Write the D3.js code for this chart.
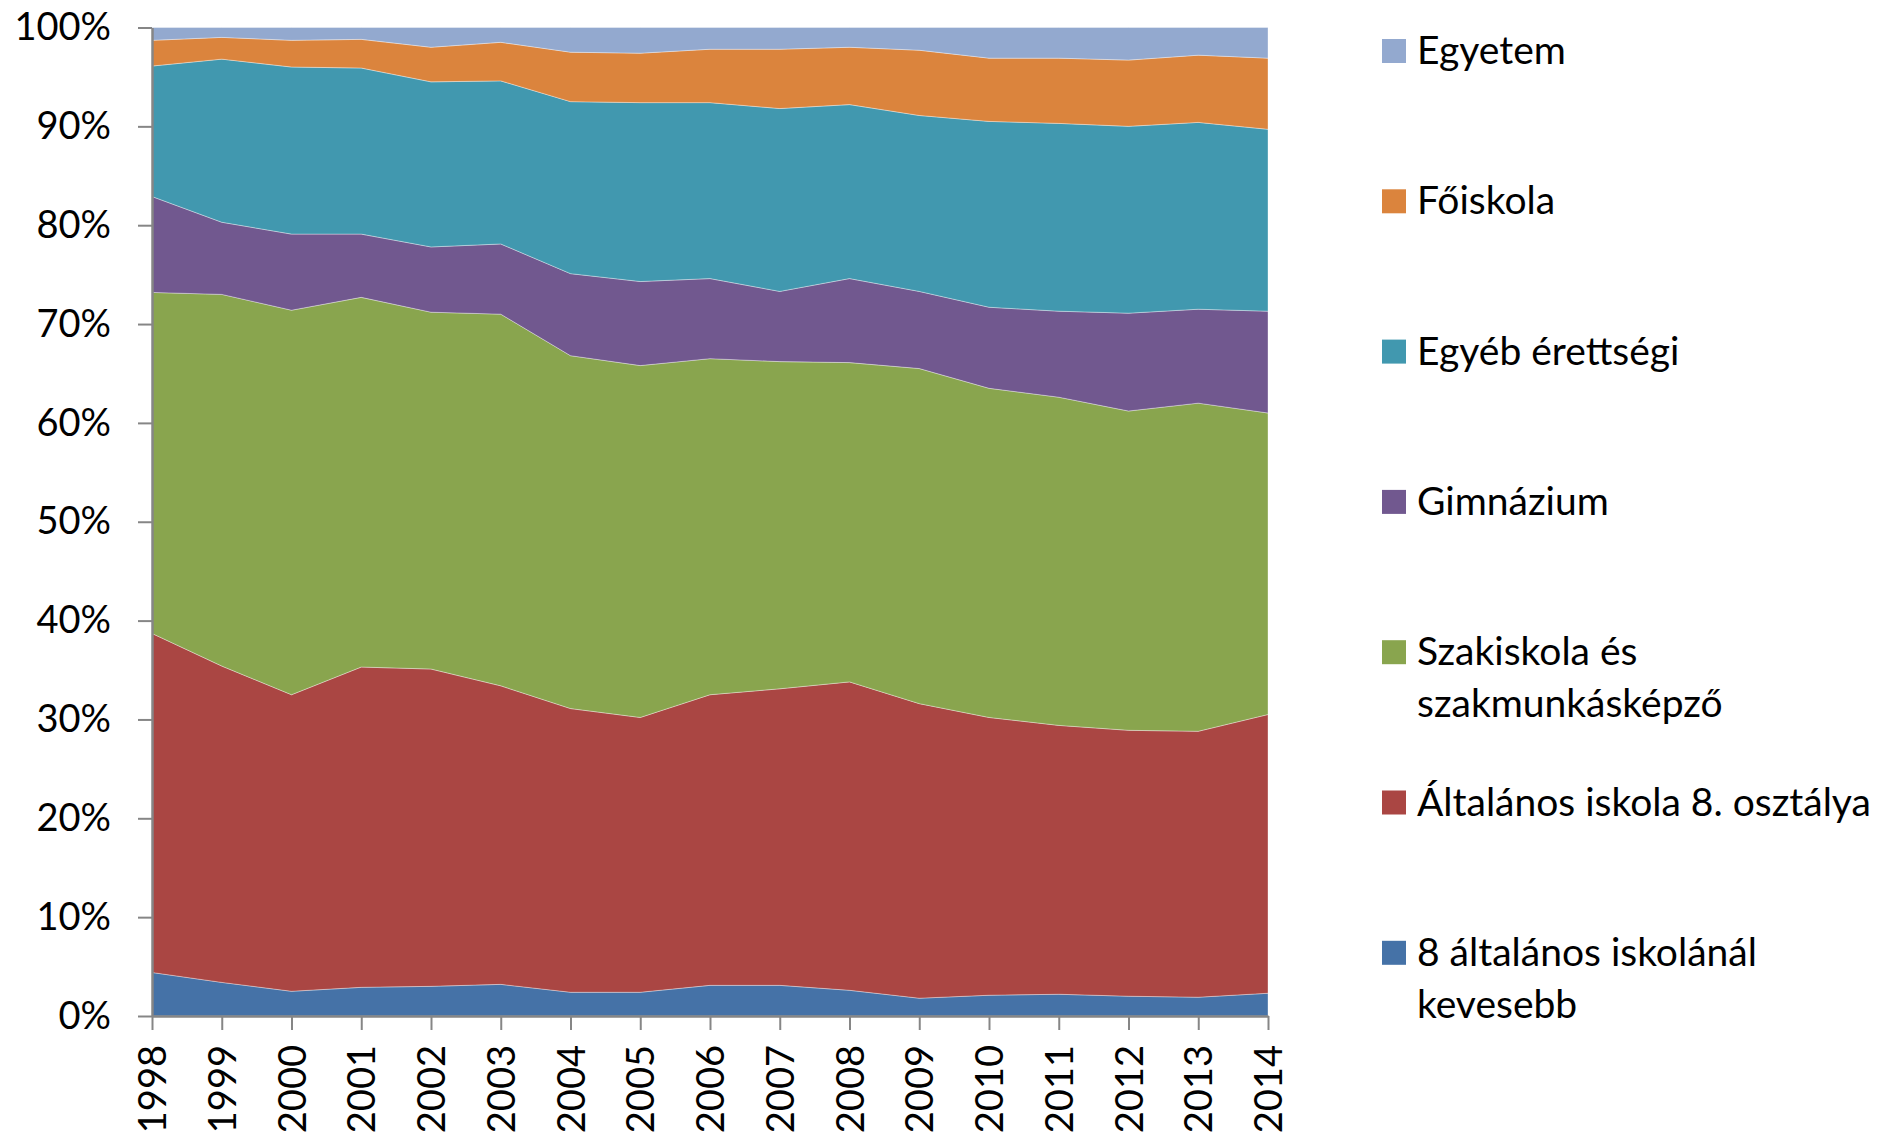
<!DOCTYPE html>
<html>
<head>
<meta charset="utf-8">
<script src="https://cdn.jsdelivr.net/npm/d3@7"></script>
<style>
  html, body { margin: 0; padding: 0; background: #fff; }
  svg { display: block; }
  text { font-family: Lato, "Open Sans", sans-serif; fill: #000; }
</style>
</head>
<body>
<svg id="chart" width="1888" height="1132"></svg>
<script>
// ---- data (percent shares) ----
const years = [1998,1999,2000,2001,2002,2003,2004,2005,2006,2007,2008,2009,2010,2011,2012,2013,2014];

const keys = [
  "8 általános iskolánál kevesebb",
  "Általános iskola 8. osztálya",
  "Szakiskola és szakmunkásképző",
  "Gimnázium",
  "Egyéb érettségi",
  "Főiskola",
  "Egyetem"
];

const lessThan8     = [4.4, 3.4, 2.5, 2.9, 3.0, 3.2, 2.4, 2.4, 3.1, 3.1, 2.6, 1.8, 2.1, 2.2, 2.0, 1.9, 2.3];
const altalanos8    = [34.3, 32.0, 30.0, 32.4, 32.1, 30.2, 28.7, 27.8, 29.4, 30.0, 31.2, 29.8, 28.1, 27.2, 26.9, 26.9, 28.2];
const szakiskola    = [34.5, 37.6, 38.9, 37.4, 36.1, 37.6, 35.7, 35.6, 34.0, 33.1, 32.3, 33.9, 33.3, 33.2, 32.3, 33.2, 30.5];
const gimnazium     = [9.7, 7.3, 7.7, 6.4, 6.6, 7.1, 8.3, 8.5, 8.1, 7.1, 8.5, 7.8, 8.2, 8.7, 9.9, 9.5, 10.3];
const egyebErett    = [13.2, 16.5, 16.9, 16.8, 16.7, 16.5, 17.4, 18.1, 17.8, 18.5, 17.6, 17.8, 18.8, 19.0, 18.9, 18.9, 18.4];
const foiskola      = [2.6, 2.2, 2.7, 2.9, 3.5, 3.9, 5.0, 5.0, 5.4, 6.0, 5.8, 6.6, 6.4, 6.6, 6.7, 6.8, 7.2];
const egyetem       = [1.3, 1.0, 1.3, 1.2, 2.0, 1.5, 2.5, 2.6, 2.2, 2.2, 2.0, 2.3, 3.1, 3.1, 3.3, 2.8, 3.1];

const seriesValues = [lessThan8, altalanos8, szakiskola, gimnazium, egyebErett, foiskola, egyetem];
const colors = ["#4572A7", "#AA4643", "#89A54E", "#71588F", "#4198AF", "#DB843D", "#93A9CF"];
const yTicks = [0, 0.1, 0.2, 0.3, 0.4, 0.5, 0.6, 0.7, 0.8, 0.9, 1.0];

// legend labels split into lines
const legendLines = {
  "Egyetem": ["Egyetem"],
  "Főiskola": ["Főiskola"],
  "Egyéb érettségi": ["Egyéb érettségi"],
  "Gimnázium": ["Gimnázium"],
  "Szakiskola és szakmunkásképző": ["Szakiskola és", "szakmunkásképző"],
  "Általános iskola 8. osztálya": ["Általános iskola 8. osztálya"],
  "8 általános iskolánál kevesebb": ["8 általános iskolánál", "kevesebb"]
};

(function () {
  const table = years.map((yr, i) => {
    const row = { year: yr };
    keys.forEach((k, j) => row[k] = seriesValues[j][i]);
    return row;
  });

  const svg = d3.select("#chart");
  const pLeft = 152, pRight = 1268, pTop = 27.5, pBottom = 1016;
  const axisFont = 38, legendFont = 39;

  const x = d3.scaleLinear().domain([years[0], years[years.length - 1]]).range([pLeft, pRight]);
  const y = d3.scaleLinear().domain([0, 1]).range([pBottom, pTop]);

  const layers = d3.stack().keys(keys).offset(d3.stackOffsetExpand)(table);

  const area = d3.area()
    .x(d => x(d.data.year))
    .y0(d => y(d[0]))
    .y1(d => y(d[1]));

  svg.append("g").selectAll("path")
    .data(layers)
    .join("path")
    .attr("d", area)
    .attr("fill", (d, i) => colors[i])
    .attr("stroke", "rgba(255,255,255,0.35)")
    .attr("stroke-width", 1);

  // y axis
  const yAxis = svg.append("g")
    .attr("transform", `translate(${pLeft},0)`)
    .call(d3.axisLeft(y).tickValues(yTicks).tickFormat(d3.format(".0%")).tickSize(14).tickPadding(27).tickSizeOuter(0));
  yAxis.select(".domain").attr("stroke", "#868686").attr("stroke-width", 2.5);
  yAxis.selectAll(".tick line").attr("stroke", "#868686").attr("stroke-width", 2);
  yAxis.selectAll(".tick text").attr("font-size", axisFont).attr("font-family", "Lato").attr("fill", "#000");

  // x axis
  const xAxis = svg.append("g")
    .attr("transform", `translate(0,${pBottom})`)
    .call(d3.axisBottom(x).tickValues(years).tickFormat(d3.format("d")).tickSize(14).tickSizeOuter(0));
  xAxis.select(".domain").attr("stroke", "#868686").attr("stroke-width", 2.5);
  xAxis.selectAll(".tick line").attr("stroke", "#868686").attr("stroke-width", 2);
  xAxis.selectAll(".tick text")
    .attr("font-size", axisFont)
    .attr("font-family", "Lato")
    .attr("fill", "#000")
    .attr("transform", "rotate(-90)")
    .attr("text-anchor", "end")
    .attr("x", -29)
    .attr("y", 0)
    .attr("dy", "0.36em");

  // legend
  const legendOrder = keys.slice().reverse();
  const legendX = 1382, legendTop = 51, legendStep = 150.3;
  const lg = svg.append("g");
  legendOrder.forEach((k, i) => {
    const cy = legendTop + i * legendStep;
    const ci = keys.indexOf(k);
    lg.append("rect")
      .attr("x", legendX).attr("y", cy - 12)
      .attr("width", 24).attr("height", 24)
      .attr("fill", colors[ci]);
    const t = lg.append("text")
      .attr("x", legendX + 35)
      .attr("y", cy + 13)
      .attr("font-size", legendFont);
    legendLines[k].forEach((ln, j) => {
      t.append("tspan").attr("x", legendX + 35).attr("dy", j === 0 ? 0 : 52).text(ln);
    });
  });
})();
</script>
</body>
</html>
